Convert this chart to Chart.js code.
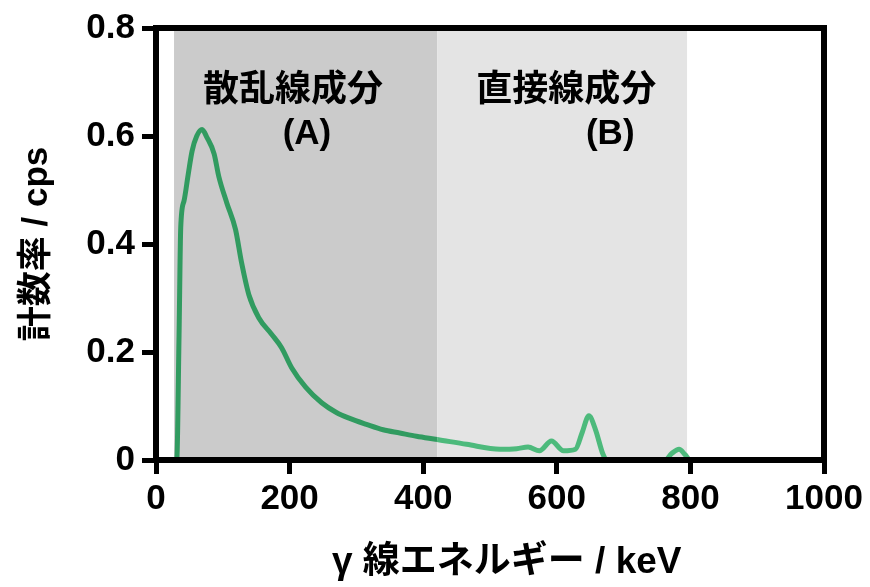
<!DOCTYPE html>
<html>
<head>
<meta charset="utf-8">
<script src="https://cdn.jsdelivr.net/npm/chart.js@4"></script>
<style>
    html, body { margin: 0; padding: 0; background: #ffffff; }
    #wrap { width: 870px; height: 587px; }
</style>
</head>
<body>
<div id="wrap"><canvas id="spectrum"></canvas></div>
<script>
// spectrum: energy (keV) and count rate (cps)
const energies = [0, 31, 34.5, 37, 42, 48, 54, 61, 69, 76, 87, 94, 106, 119, 128, 139, 154, 173, 188, 203,
    224, 248, 270, 290, 315, 340, 365, 390, 421, 465, 515, 540, 557, 574, 592, 610, 628, 638, 648, 658,
    669, 675, 762, 772, 783, 792, 800, 1000];
const countRates = [0, 0, 0.23, 0.43, 0.48, 0.527, 0.572, 0.600, 0.612, 0.598, 0.567, 0.525, 0.476, 0.427, 0.366, 0.306, 0.263, 0.233, 0.208, 0.171,
    0.135, 0.106, 0.088, 0.077, 0.066, 0.056, 0.050, 0.044, 0.038, 0.029, 0.020, 0.021, 0.024, 0.017, 0.035, 0.017, 0.020, 0.051, 0.082, 0.056,
    0.011, 0, 0, 0.012, 0.020, 0.010, 0, 0];

// shaded components (keV ranges)
const regionNames = ['散乱線成分', '直接線成分'];
const regionLetters = ['(A)', '(B)'];
const regionStart = [27, 421];
const regionEnd = [421, 795];

const xTicks = [0, 200, 400, 600, 800, 1000];
const yTicks = [0, 0.2, 0.4, 0.6, 0.8];
const xTitle = 'γ 線エネルギー / keV';

const regionFills = ['#cbcbcb', '#e4e4e4'];
const lineDark = '#319b60';
const lineLight = '#4dba7c';
const latinFont = '"Liberation Sans", Arial, "Noto Sans CJK JP", sans-serif';

// where the captions sit, in data units
const captionSpots = [
    { name: [205, 0.684], letter: [226, 0.603] },
    { name: [614, 0.684], letter: [680, 0.603] }
];

const regionsPlugin = {
    id: 'regions',
    beforeDatasetsDraw(chart) {
        const { ctx, chartArea, scales: { x, y } } = chart;
        ctx.save();
        regionStart.forEach((start, i) => {
            const left = x.getPixelForValue(start);
            const right = x.getPixelForValue(regionEnd[i]);
            ctx.fillStyle = regionFills[i];
            ctx.fillRect(left, chartArea.top, right - left, chartArea.bottom - chartArea.top);
        });
        ctx.restore();
    },
    afterDatasetsDraw(chart) {
        const { ctx, chartArea, scales: { x, y } } = chart;
        ctx.save();
        // top and right frame lines
        ctx.strokeStyle = '#000';
        ctx.lineWidth = 6;
        ctx.lineCap = 'square';
        ctx.beginPath();
        ctx.moveTo(chartArea.left, chartArea.top);
        ctx.lineTo(chartArea.right, chartArea.top);
        ctx.lineTo(chartArea.right, chartArea.bottom);
        ctx.stroke();

        ctx.fillStyle = '#000';
        ctx.textAlign = 'center';
        ctx.textBaseline = 'middle';
        captionSpots.forEach((spot, i) => {
            ctx.font = 'bold 36px ' + latinFont;
            ctx.fillText(regionNames[i], x.getPixelForValue(spot.name[0]), y.getPixelForValue(spot.name[1]));
            ctx.font = 'bold 35px ' + latinFont;
            ctx.fillText(regionLetters[i], x.getPixelForValue(spot.letter[0]), y.getPixelForValue(spot.letter[1]));
        });

        // x axis title, a bit right of centre like the original
        ctx.font = 'bold 37px ' + latinFont;
        ctx.fillText(xTitle, x.getPixelForValue(525), 563);
        ctx.restore();
    }
};

new Chart('spectrum', {
    type: 'line',
    data: {
        datasets: [{
            data: energies.map((e, i) => ({ x: e, y: countRates[i] })),
            borderWidth: 5,
            borderColor: lineDark,
            pointRadius: 0,
            cubicInterpolationMode: 'monotone',
            segment: {
                borderColor: ctx => ctx.p0.parsed.x >= regionEnd[0] ? lineLight : lineDark
            }
        }]
    },
    options: {
        responsive: true,
        maintainAspectRatio: false,
        animation: false,
        layout: { padding: { top: 19, right: 46, left: 0, bottom: 0 } },
        plugins: {
            legend: { display: false },
            tooltip: { enabled: false }
        },
        scales: {
            x: {
                type: 'linear',
                min: 0,
                max: 1000,
                afterBuildTicks: axis => { axis.ticks = xTicks.map(v => ({ value: v })); },
                afterFit: axis => { axis.height = 127; },
                border: { display: true, color: '#000', width: 6, z: 1 },
                grid: { drawOnChartArea: false, drawTicks: true, tickLength: 14, tickWidth: 5, tickColor: '#000' },
                ticks: {
                    color: '#000',
                    padding: 4,
                    maxRotation: 0,
                    font: { family: latinFont, size: 35, weight: 'bold' },
                    callback: v => String(v)
                },
                title: { display: false }
            },
            y: {
                min: 0,
                max: 0.8,
                afterBuildTicks: axis => { axis.ticks = yTicks.map(v => ({ value: v })); },
                afterFit: axis => { axis.width = 156; },
                border: { display: true, color: '#000', width: 6, z: 1 },
                grid: { drawOnChartArea: false, drawTicks: true, tickLength: 14, tickWidth: 5, tickColor: '#000' },
                ticks: {
                    color: '#000',
                    padding: 7,
                    font: { family: latinFont, size: 35, weight: 'bold' },
                    callback: v => v === 0 ? '0' : v.toFixed(1)
                },
                title: {
                    display: true,
                    text: '計数率 / cps',
                    color: '#000',
                    padding: { top: 16, bottom: 0 },
                    font: { family: latinFont, size: 35, weight: 'bold' }
                }
            }
        }
    },
    plugins: [regionsPlugin]
});
</script>
</body>
</html>
